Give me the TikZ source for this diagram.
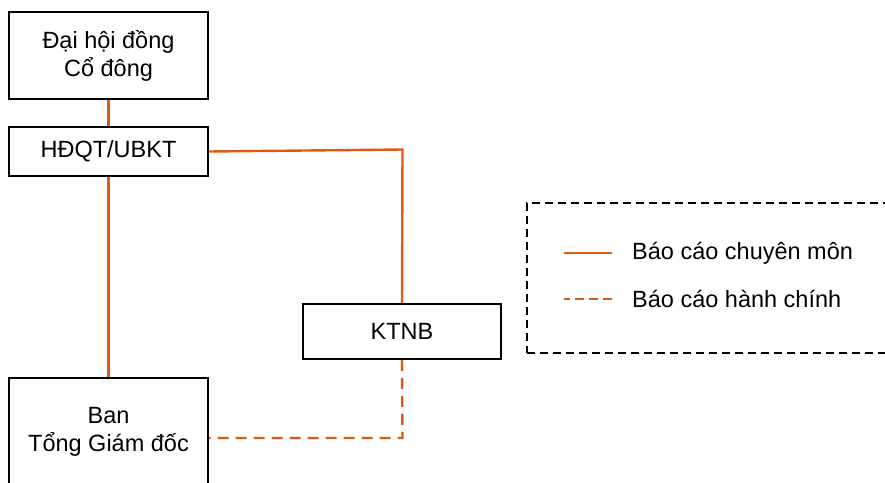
\documentclass[tikz,border=0pt]{standalone}
\usepackage{fontspec}
\setmainfont{Liberation Sans}
\usetikzlibrary{positioning, calc}
\definecolor{reportorange}{HTML}{DD5A12}

\begin{document}
\begin{tikzpicture}[
      x=1pt, y=-1pt,
      font=\fontsize{23.5}{28}\selectfont,
      orgbox/.style={draw, line width=1.8pt, align=center, minimum width=199pt},
      report/.style={draw=reportorange, line width=2.4pt},
      adminreport/.style={report, dash pattern=on 11pt off 7pt},
      legendbox/.style={draw, line width=1.8pt, dash pattern=on 8pt off 5pt}
    ]
      \useasboundingbox (0,0) rectangle (885,482);
      \clip (0,0) rectangle (885,482);
      % organisation boxes
      \node[orgbox, minimum height=87pt] (dhcd) at (108.5,55.5)
        {Đại hội đồng\\Cổ đông};
      \node[orgbox, minimum height=49pt] (hdqt) at (108.5,151.5)
        {HĐQT/UBKT};
      \node[orgbox, minimum height=108pt] (ban) at (108.5,432)
        {Ban\\Tổng Giám đốc};
      \node[orgbox, minimum width=198pt, minimum height=55pt] (ktnb)
        at (402,331.5) {KTNB};
      \coordinate (turnA) at (402.5,149.5);
      \coordinate (turnB) at (402.5,438);
      % reporting lines
      \draw[report] (dhcd) -- (hdqt);
      \draw[report] (hdqt) -- (ban);
      \draw[report] (hdqt.east) -- (turnA) -- (ktnb.north);
      \draw[adminreport] (ktnb.south) -- (turnB) -- (ban.east |- turnB);
      % legend
      \node[legendbox, minimum width=380pt, minimum height=150pt] (legend)
        at (717,278) {};
      \node[anchor=west, inner sep=0pt] (lgsolid) at (632,253)
        {Báo cáo chuyên môn};
      \node[anchor=west, inner sep=0pt] (lgdashed) at (632,299)
        {Báo cáo hành chính};
      \draw[report, line width=2pt] ([xshift=-20pt]lgsolid.west) -- ++(-48,0);
      \draw[adminreport, line width=2pt, dash pattern=on 9pt off 5pt]
        ([xshift=-20pt]lgdashed.west) -- ++(-48,0);
    \end{tikzpicture}
\end{document}
